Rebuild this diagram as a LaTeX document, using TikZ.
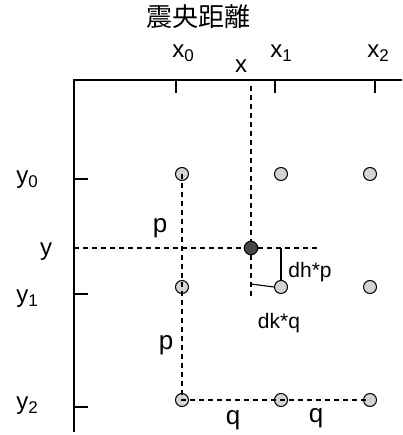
\documentclass[tikz,border=0pt]{standalone}
\usepackage{fontspec}
\setmainfont{Liberation Sans}
\newfontfamily\cjk{Noto Sans CJK JP}
\usetikzlibrary{positioning}
\definecolor{gridfill}{HTML}{D3D3D3}
\definecolor{pointfill}{HTML}{474747}
\newcommand{\lowidx}[1]{\raisebox{-4pt}{\fontsize{17}{19}\selectfont #1}}
\tikzset{
  axis/.style={line width=1.3pt, draw=black},
  tickmark/.style={line width=1.2pt, draw=black},
  guide/.style={line width=1.1pt, dash pattern=on 5pt off 4pt},
  solidln/.style={line width=1.1pt},
  gpt/.style={circle, draw=black, fill=gridfill, line width=1pt,
              minimum size=13pt, inner sep=0pt},
  tpt/.style={gpt, fill=pointfill, minimum size=13.5pt},
  lbl/.style={font=\fontsize{24}{28}\selectfont, inner sep=0pt, anchor=base},
  big/.style={lbl, font=\fontsize{26}{30}\selectfont},
  small/.style={lbl, font=\fontsize{21}{25}\selectfont},
  ttl/.style={font=\cjk\fontsize{26}{30}\selectfont, inner sep=0pt}
}
\begin{document}
\begin{tikzpicture}[x=1pt, y=-1pt]
  \useasboundingbox (0,0) rectangle (402,435);

  % axes
  \coordinate (org) at (74,80);
  \coordinate (xend) at (402,80);
  \coordinate (yend) at (74,432);
  \draw[axis] (xend) -- (org) -- (yend);

  % ticks
  \foreach \xx in {176,275,375} \draw[tickmark] (\xx,80) -- ++(0,13);
  \foreach \yy in {179,294,407} \draw[tickmark] (74,\yy) -- ++(14,0);

  % grid points
  \foreach \i/\xx in {0/182,1/281,2/370}
    \foreach \j/\yy in {0/174,1/287,2/400}
      \node[gpt] (g\i\j) at (\xx,\yy) {};

  % interpolated point and guide lines
  \node[tpt] (pt) at (251,248) {};
  \coordinate (vtop) at (251,86);
  \coordinate (vbot) at (251,300);
  \coordinate (hleft) at (74,248);
  \coordinate (hright) at (318,248);
  \draw[guide] (vtop) -- (pt) -- (vbot);
  \draw[guide] (hleft) -- (pt) -- (hright);
  \draw[guide] (g00.center) -- (g02.center) -- (g22.center);

  % offsets
  \coordinate (dhtop) at (281,248);
  \coordinate (dkleft) at (251,284);
  \draw[solidln] (dhtop) -- (g11.north);
  \draw[solidln] (dkleft) -- (g11.west);

  % labels
  \node[ttl] (title) at (198,17) {震央距離};
  \node[lbl] (lx0) at (183,58) {x\lowidx{0}};
  \node[lbl] (lx) at (241,73) {x};
  \node[lbl] (lx1) at (281,58) {x\lowidx{1}};
  \node[lbl] (lx2) at (378,58) {x\lowidx{2}};
  \node[lbl] (ly0) at (27,184) {y\lowidx{0}};
  \node[lbl] (ly) at (46,255) {y};
  \node[lbl] (ly1) at (27,302) {y\lowidx{1}};
  \node[lbl] (ly2) at (27,409) {y\lowidx{2}};
  \node[big] (lp1) at (160,232) {p};
  \node[big] (lp2) at (166,349) {p};
  \node[big] (lq1) at (233,424) {q};
  \node[big] (lq2) at (316,422) {q};
  \node[small] (ldh) at (310,277) {dh*p};
  \node[small] (ldk) at (279,328) {dk*q};
\end{tikzpicture}
\end{document}
